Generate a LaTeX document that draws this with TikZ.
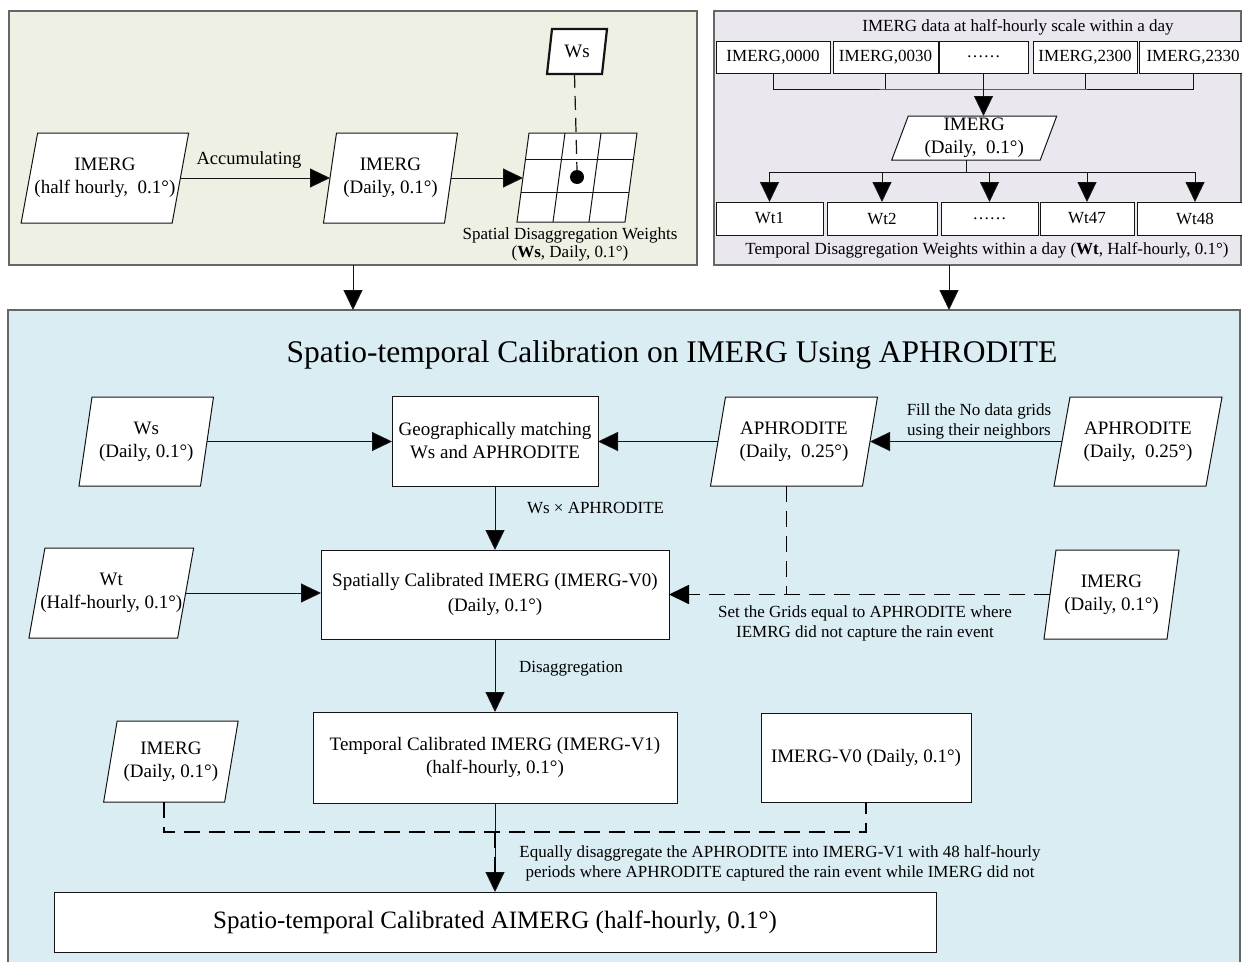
\documentclass[tikz,border=0pt]{standalone}
\usepackage{fontspec}
\setmainfont{Liberation Serif}
\usetikzlibrary{arrows.meta,calc}
\definecolor{leftc}{RGB}{237,240,226}
\definecolor{rightc}{RGB}{234,231,239}
\definecolor{botc}{RGB}{218,237,243}
\definecolor{linec}{RGB}{20,20,20}
\tikzset{
  every node/.style={inner sep=0pt, outer sep=0pt},
  panel/.style={draw=black!60, line width=1.2pt, anchor=north west},
  box/.style={draw=linec, fill=white, line width=1pt, align=center, font=\fontsize{19}{23}\selectfont},
  smallbox/.style={box, font=\fontsize{17}{20}\selectfont},
  ptext/.style={align=center, font=\fontsize{19}{23}\selectfont},
  pshape/.style={draw=linec, fill=white, line width=1pt},
  lbl/.style={align=center, font=\fontsize{17}{20}\selectfont},
  conn/.style={line width=1pt, draw=linec},
  arr/.style={conn, -{Triangle[length=20pt,width=19pt,fill=black]}},
  dashline/.style={line width=1.8pt, draw=black, dash pattern=on 16pt off 9pt},
  darr/.style={dashline, -{Triangle[length=20pt,width=19pt,fill=black]}},
  thindash/.style={line width=1.2pt, draw=linec, dash pattern=on 14pt off 8pt},
}
% [path opts]{name}{cx}{cy}{w}{h}{slant}{text}
\newcommand{\pgram}[8][]{%
  \path[pshape,#1] ({#3-#5/2+#7/2},{#4-#6/2}) -- ({#3+#5/2+#7/2},{#4-#6/2})
     -- ({#3+#5/2-#7/2},{#4+#6/2}) -- ({#3-#5/2-#7/2},{#4+#6/2}) -- cycle;
  \node[ptext, minimum width=#5pt, minimum height=#6pt] (#2) at (#3,#4) {#8};
  \coordinate (#2-t) at ({#3+#7/2},{#4-#6/2});
  \coordinate (#2-b) at ({#3-#7/2},{#4+#6/2});
}
\begin{document}
\begin{tikzpicture}[x=1pt,y=-1pt]
\useasboundingbox (0,0) rectangle (1242,961);
\fill[white] (0,0) rectangle (1242,961);

% ---------- panels ----------
\node[panel, fill=leftc, minimum width=688pt, minimum height=254pt] (panelL) at (9,11) {};
\node[panel, fill=rightc, minimum width=527pt, minimum height=254pt] (panelR) at (714,11) {};
\node[panel, fill=botc, minimum width=1232pt, minimum height=680pt] (panelB) at (8,310) {};

\draw[arr] (panelL.south) -- (panelL.south |- panelB.north);
\coordinate (rin) at (949,310);
\draw[arr] (panelR.south -| rin) -- (rin);

% ---------- top-left panel ----------
\pgram{p1}{104.9}{178}{151}{90}{16.5}{IMERG\\(half hourly,\ \ 0.1°)}
\pgram{p2}{390.5}{178}{121}{90}{13}{IMERG\\(Daily, 0.1°)}
\pgram{grid}{577}{177.5}{108}{89}{12}{}
\draw[conn] (525.5,159) -- (633.5,159);
\draw[conn] (521,192) -- (629,192);
\draw[conn] (565,133) -- (553,222);
\draw[conn] (601,133) -- (589,222);
\node[circle, fill=black, minimum size=14pt] (dot) at (577,177) {};
\pgram[line width=2.2pt]{wss}{577}{51.5}{55}{45}{5}{Ws}
\draw[thindash] (wss-b) -- (dot.north);
\draw[arr] (p1.east) -- (p2.west);
\node[font=\fontsize{18.5}{22}\selectfont] (acc) at (249,160) {Accumulating};
\draw[arr] (p2.east) -- (p2.east -| grid.west);
\node[lbl, font=\fontsize{17}{18}\selectfont] (sdw) at (570,244) {Spatial Disaggregation Weights\\(\textbf{Ws}, Daily, 0.1°)};

% ---------- top-right panel ----------
\node[lbl] (rtitle) at (1018,27) {IMERG data at half-hourly scale within a day};
\node[smallbox, minimum width=114pt, minimum height=32pt] (b1) at (773,57) {IMERG,0000};
\node[smallbox, minimum width=105pt, minimum height=32pt] (b2) at (885.5,57) {IMERG,0030};
\node[smallbox, minimum width=89pt, minimum height=32pt] (b3) at (983.5,57) {……};
\node[smallbox, minimum width=104pt, minimum height=32pt] (b4) at (1085,57) {IMERG,2300};
\node[smallbox, minimum width=108pt, minimum height=32pt] (b5) at (1193,57) {IMERG,2330};
\coordinate (busT) at (983.5,89);
\draw[conn] (b1.south) |- (busT) -| (b5.south);
\draw[conn] (b2.south) -- (b2.south |- busT);
\draw[conn] (b4.south) -- (b4.south |- busT);
\pgram{pr}{974.25}{138}{148.5}{44}{16.5}{IMERG\\(Daily,\ \ 0.1°)}
\draw[arr] (b3.south) -- (b3.south |- pr-t);
\node[smallbox, minimum width=107pt, minimum height=33pt] (w1) at (769.5,218.5) {Wt1};
\node[smallbox, minimum width=110pt, minimum height=33pt] (w2) at (882,218.5) {Wt2};
\node[smallbox, minimum width=97pt, minimum height=33pt] (w3) at (989.5,218.5) {……};
\node[smallbox, minimum width=94pt, minimum height=33pt] (w4) at (1087,218.5) {Wt47};
\node[smallbox, minimum width=116pt, minimum height=33pt] (w5) at (1195,218.5) {Wt48};
\coordinate (busB) at (966,172);
\draw[conn] (pr-b) -- (busB);
\draw[conn] (w1.north |- busB) -- (w5.north |- busB);
\foreach \n in {w1,w2,w3,w4,w5} \draw[arr] (\n.north |- busB) -- (\n.north);
\node[lbl] (tdw) at (987,250) {Temporal Disaggregation Weights within a day (\textbf{Wt}, Half-hourly, 0.1°)};

% ---------- bottom panel ----------
\node[font=\fontsize{31.5}{36}\selectfont] (btitle) at (672,355) {Spatio-temporal Calibration on IMERG Using APHRODITE};

\pgram{ws2}{146.25}{441.5}{121.5}{89}{13}{Ws\\(Daily, 0.1°)}
\node[box, minimum width=206pt, minimum height=90pt] (geo) at (495,441) {Geographically matching\\Ws and APHRODITE};
\pgram{aph1}{794}{441.5}{152}{89}{15}{APHRODITE\\(Daily,\ \ 0.25°)}
\pgram{aph2}{1138}{441.5}{152}{89}{16}{APHRODITE\\(Daily,\ \ 0.25°)}
\node[lbl] (fill) at (979,421) {Fill the No data grids\\using their neighbors};

\draw[arr] (ws2.east) -- (ws2.east -| geo.west);
\draw[arr] (aph1.west) -- (aph1.west -| geo.east);
\draw[arr] (aph2.west) -- (aph2.west -| aph1.east);

\node[box, minimum width=348pt, minimum height=89pt, font=\fontsize{19}{25}\selectfont] (spatial) at (495,594.5) {Spatially Calibrated IMERG (IMERG-V0)\\(Daily, 0.1°)};
\draw[arr] (geo.south) -- (spatial.north);
\node[lbl, anchor=west] (wsx) at (527,508) {Ws × APHRODITE};

\pgram{wt2}{111.3}{593}{148.7}{90}{16}{Wt\\(Half-hourly, 0.1°)}
\draw[arr] (wt2.east) -- (wt2.east -| spatial.west);

\pgram{imR}{1111.5}{594.5}{123}{89}{12}{IMERG\\(Daily, 0.1°)}
\coordinate (j1) at (786.5,595);
\draw[dashline] (aph1-b) -- (j1);
\draw[darr] (imR.west) -- (imR.west -| spatial.east);
\node[lbl] (setg) at (865,623) {Set the Grids equal to APHRODITE where\\IEMRG did not capture the rain event};

\node[box, minimum width=364pt, minimum height=91pt] (temporal) at (495,757.5) {Temporal Calibrated IMERG (IMERG-V1)\\(half-hourly, 0.1°)};
\draw[arr] (spatial.south) -- (temporal.north);
\node[lbl, anchor=west] (disagg) at (519,669) {Disaggregation};

\pgram{imL}{170.9}{761.5}{121}{81}{13.5}{IMERG\\(Daily, 0.1°)}
\node[box, minimum width=210pt, minimum height=89pt] (v0) at (866,757.5) {IMERG-V0 (Daily, 0.1°)};

\node[box, minimum width=882pt, minimum height=60pt, font=\fontsize{25}{30}\selectfont] (final) at (495,922) {Spatio-temporal Calibrated AIMERG (half-hourly, 0.1°)};
\draw[arr] (temporal.south) -- (final.north);
\coordinate (j2) at (495,832);
\draw[dashline] (imL-b) |- (j2) -| (v0.south);
\draw[dashline] (j2) -- ($(final.north)+(0,-18)$);
\node[lbl] (equal) at (780,863) {Equally disaggregate the APHRODITE into IMERG-V1 with 48 half-hourly\\periods where APHRODITE captured the rain event while IMERG did not};
\end{tikzpicture}
\end{document}
